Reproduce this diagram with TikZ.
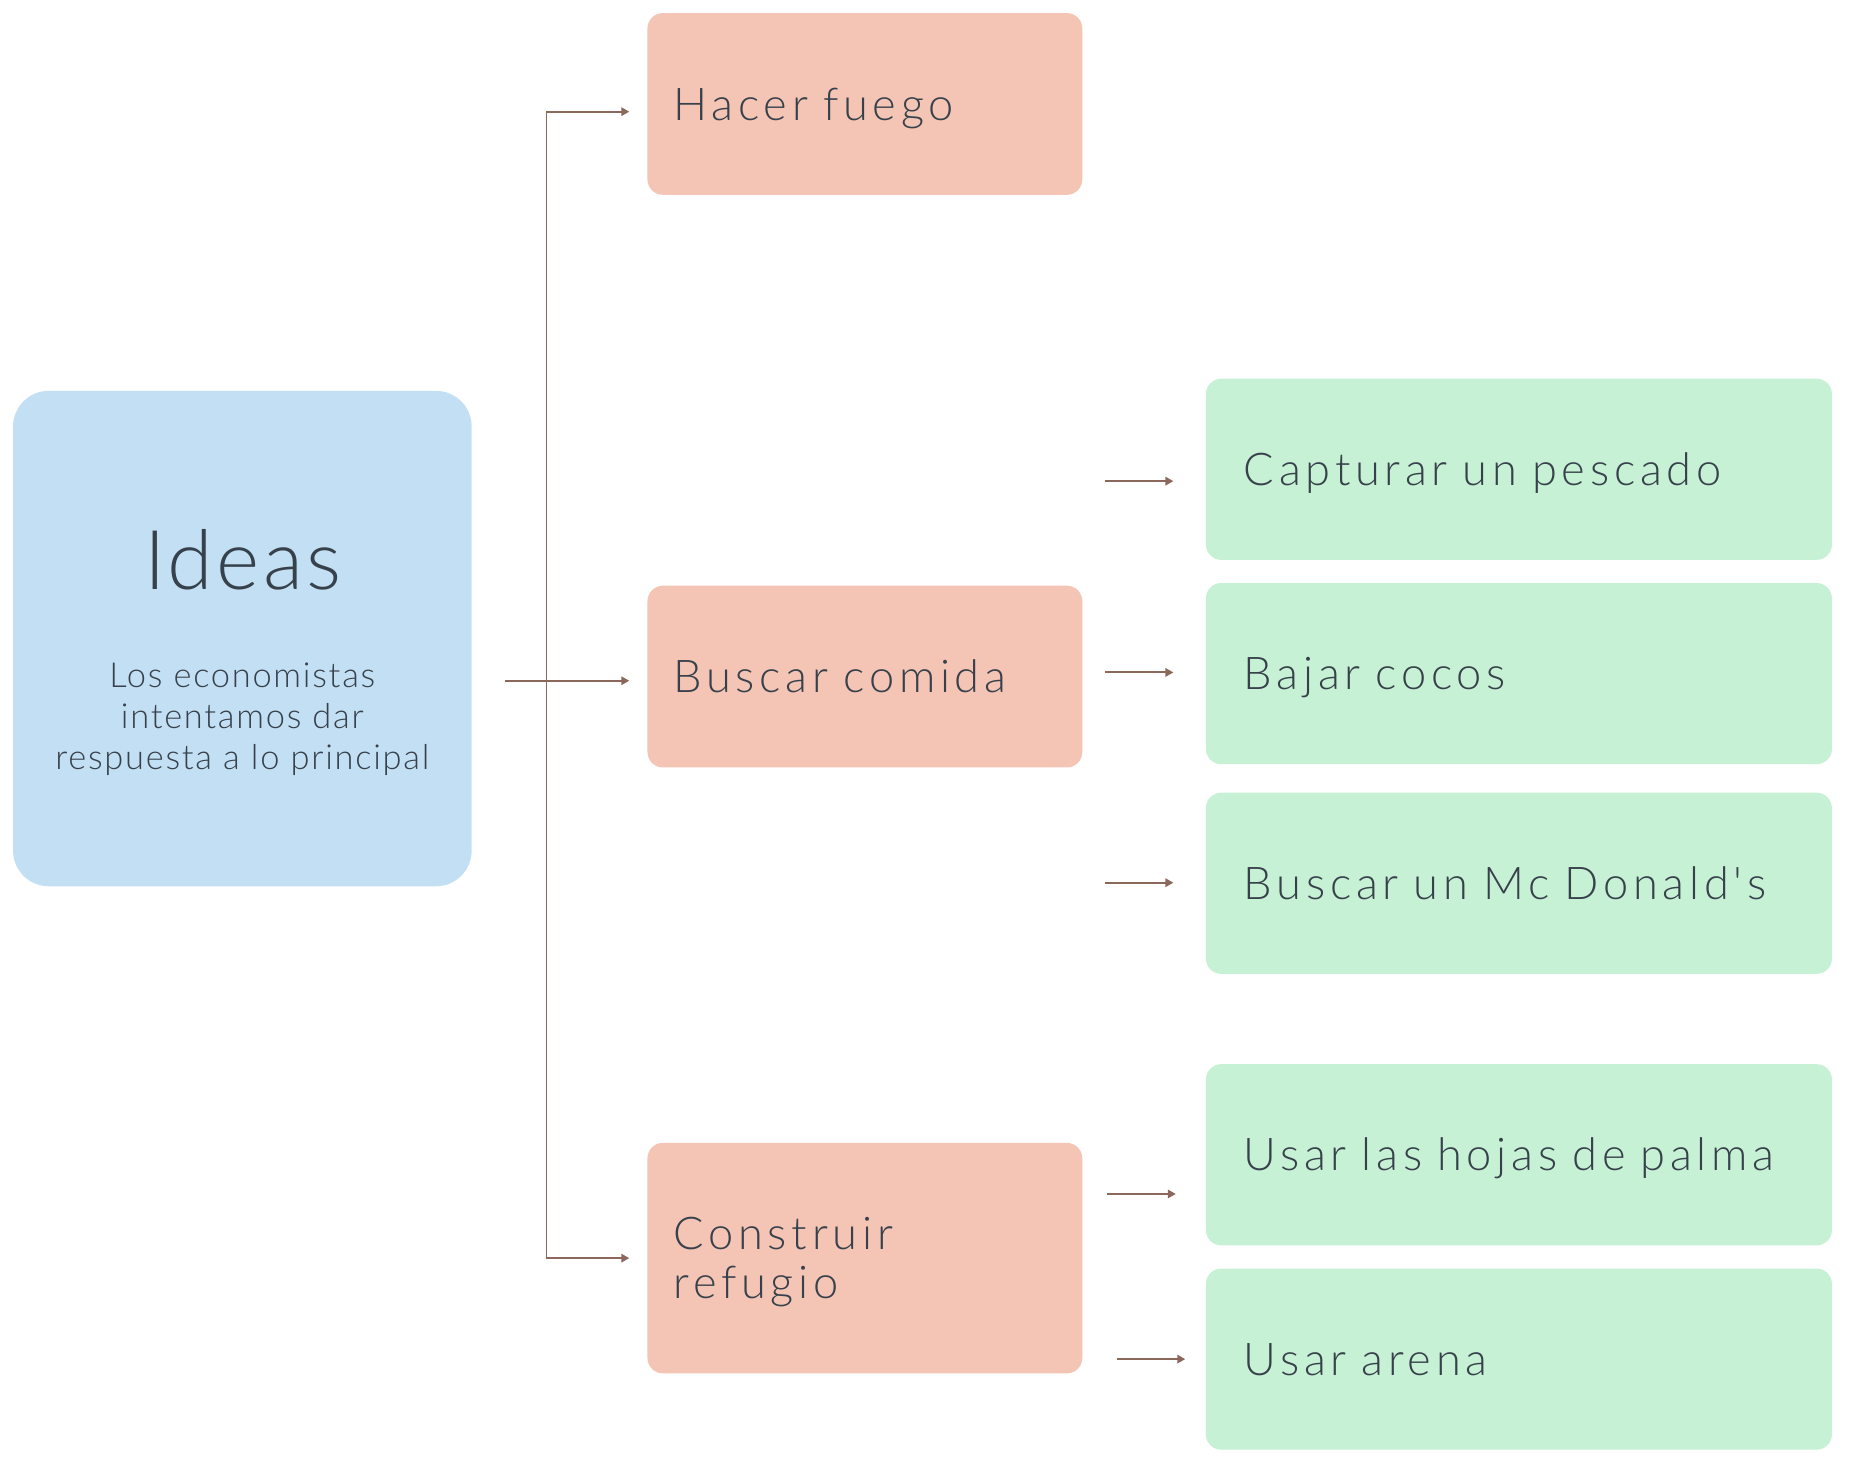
\documentclass[tikz,border=0pt]{standalone}
\usepackage{fontspec}
\setmainfont{Lato Light}
\newfontfamily\titlefont[LetterSpace=4]{Lato Light}
\newfontfamily\boxfont[LetterSpace=10.5]{Lato Light}
\newfontfamily\subfont[LetterSpace=5]{Lato Light}
\usetikzlibrary{arrows.meta}
\definecolor{bluebox}{HTML}{C2DFF3}
\definecolor{salmonbox}{HTML}{F4C4B4}
\definecolor{greenbox}{HTML}{C6F1D4}
\definecolor{ink}{HTML}{37414B}
\definecolor{arrowc}{HTML}{8B675C}
\begin{document}
\begin{tikzpicture}[x=0.6pt,y=-0.6pt,
  salmoncard/.style={fill=salmonbox, rounded corners=7.8pt, minimum width=219.6pt,
    inner xsep=13.2pt, inner ysep=0pt, text width=193.2pt, align=left, text=ink,
    text height=16.3pt, text depth=0pt,
    font=\boxfont\fontsize{22.8}{24.8}\selectfont},
  greencard/.style={fill=greenbox, rounded corners=7.8pt, minimum width=316.2pt,
    minimum height=91.5pt, inner xsep=19.2pt, inner ysep=0pt, text width=277.8pt,
    align=left, text=ink, text height=16.3pt, text depth=0pt,
    font=\boxfont\fontsize{22.8}{24.8}\selectfont},
  conn/.style={draw=arrowc, line width=1pt},
  arr/.style={conn, -{Triangle[length=4pt,width=4.2pt]}}
]
\useasboundingbox[fill=white] (0,0) rectangle (1567.3,1239);

% central card
\node[fill=bluebox, rounded corners=18pt, minimum width=231.6pt, minimum height=250.2pt,
  inner sep=0pt] (ideas) at (204,537.5) {};
\node[anchor=base, text=ink, font=\titlefont\fontsize{41.7}{48}\selectfont, inner sep=0pt]
  (ideasTitle) at (204.5,496) {Ideas};
\node[align=center, text=ink, font=\subfont\fontsize{17.4}{20.7}\selectfont, inner sep=0pt]
  (ideasSub) at (204,605) {Los economistas\\intentamos dar\\respuesta a lo principal};

% second level
\node[salmoncard, minimum height=91.8pt] (fuego) at (728,87.5) {Hacer fuego};
\node[salmoncard, minimum height=91.8pt] (comida) at (728,569.5) {Buscar comida};
\node[salmoncard, minimum height=116.4pt, text depth=24.8pt] (refugio) at (728,1059) {Construir\\refugio};

% third level
\node[greencard] (pescado) at (1278.5,395) {\mbox{Capturar un pescado}};
\node[greencard] (cocos) at (1278.5,567) {Bajar cocos};
\node[greencard] (mcd) at (1278.5,743.5) {\mbox{Buscar un Mc Donald's}};
\node[greencard] (palma) at (1278.5,972) {\mbox{Usar las hojas de palma}};
\node[greencard] (arena) at (1278.5,1144) {Usar arena};

% connectors
\coordinate (tTop) at (460,94);
\coordinate (tBot) at (460,1059);
\coordinate (hub) at (425,573);
\draw[conn] (tTop) -- (tBot);
\draw[arr, shorten >=9pt] (tTop) -- (fuego.west |- tTop);
\draw[arr, shorten >=9pt] (hub) -- (comida.west |- hub);
\draw[arr, shorten >=9pt] (tBot) -- (refugio.west |- tBot);

\coordinate (s1) at (930,405);
\coordinate (s2) at (930,566);
\coordinate (s3) at (930,743);
\coordinate (s4) at (932,1005);
\coordinate (s5) at (940,1144);
\draw[arr, shorten >=16.2pt] (s1) -- (pescado.west |- s1);
\draw[arr, shorten >=16.2pt] (s2) -- (cocos.west |- s2);
\draw[arr, shorten >=16.2pt] (s3) -- (mcd.west |- s3);
\draw[arr, shorten >=15pt] (s4) -- (palma.west |- s4);
\draw[arr, shorten >=10.2pt] (s5) -- (arena.west |- s5);
\end{tikzpicture}
\end{document}
